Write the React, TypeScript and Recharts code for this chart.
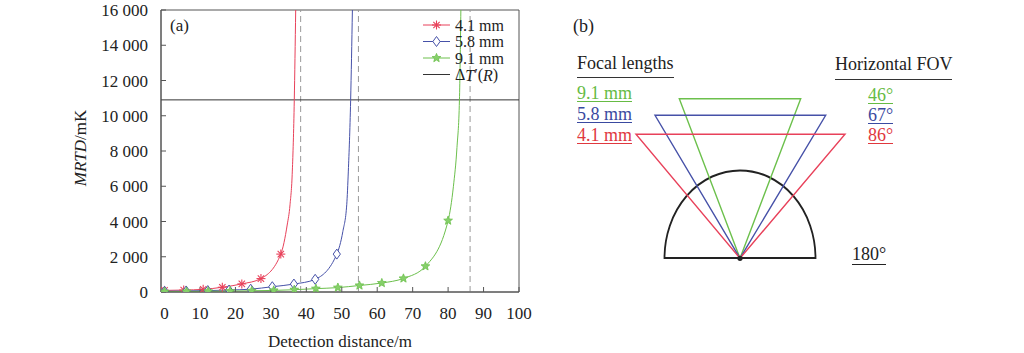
import {
  ComposedChart,
  Line,
  XAxis,
  YAxis,
  ReferenceLine,
  ReferenceArea,
  Legend,
  Scatter,
  PieChart,
  Pie,
} from 'recharts'

const FONT = "'Liberation Serif', 'Times New Roman', serif"
const RED = '#e8415a'
const BLUE = '#4651a8'
const GREEN = '#6cc04c'
const RED_T = '#e0383e'
const BLUE_T = '#3a4aa0'
const GREEN_T = '#66bb44'

// (a) MRTD vs detection distance: the marked points first, then the steep tail
const dist41 = [0, 5.4, 10.9, 16.3, 21.8, 27.2, 32.8, 34.6, 35.4, 36.05, 36.6, 37.0]
const mrtd41 = [90, 110, 150, 270, 460, 760, 2150, 3800, 4950, 6860, 10860, 16000]
const marked41 = 7

const dist58 = [0, 6.1, 12.2, 18.2, 24.3, 30.4, 36.5, 42.5, 48.6, 50.3, 51.4, 51.85, 52.5, 53.0]
const mrtd58 = [40, 60, 80, 110, 160, 300, 450, 720, 2150, 3430, 4950, 6860, 10860, 16000]
const marked58 = 9

const dist91 = [0, 6.2, 12.3, 18.5, 24.6, 30.8, 36.6, 42.7, 48.9, 55.0, 61.3, 67.4, 73.6, 80.0, 81.5, 82.5, 83.2, 83.6]
const mrtd91 = [20, 30, 40, 50, 70, 90, 130, 190, 250, 370, 510, 770, 1460, 4050, 6000, 8200, 10900, 16000]
const marked91 = 14

const deltaT = 10900
const limitDist = [38.4, 54.7, 86.2]
const xTicks = [0, 10, 20, 30, 40, 50, 60, 70, 80, 90, 100]
const yTicks = [0, 2000, 4000, 6000, 8000, 10000, 12000, 14000, 16000]

// (b) field of view sketch
const focalLabels = ['9.1 mm', '5.8 mm', '4.1 mm']
const fovLabels = ['46°', '67°', '86°']
const triLeft = [-60.7, -85, -104]
const triRight = [60.7, 85.7, 105]
const triTop = [159.6, 143, 124]
const halfDisk = [{ name: '180°', value: 180 }]

const rows = (d: number[], v: number[]) => d.map((x, i) => ({ d: x, v: v[i] }))
const fmt = (v: number) => String(v).replace(/\B(?=(\d{3})+(?!\d))/g, ' ')

type MP = { cx?: number; cy?: number; color: string }

const Asterisk = ({ cx = 0, cy = 0, color }: MP) => (
  <g stroke={color} strokeWidth={1.1}>
    {[0, 45, 90, 135].map((a) => {
      const dx = 4.5 * Math.cos((a * Math.PI) / 180)
      const dy = 4.5 * Math.sin((a * Math.PI) / 180)
      return <line key={a} x1={cx - dx} y1={cy - dy} x2={cx + dx} y2={cy + dy} />
    })}
  </g>
)

const Diamond = ({ cx = 0, cy = 0, color }: MP) => (
  <polygon
    points={`${cx},${cy - 5} ${cx + 3.6},${cy} ${cx},${cy + 5} ${cx - 3.6},${cy}`}
    fill="#fff"
    stroke={color}
    strokeWidth={1}
  />
)

const Star = ({ cx = 0, cy = 0, color }: MP) => {
  const pts = []
  for (let i = 0; i < 10; i++) {
    const r = i % 2 === 0 ? 4.6 : 2
    const a = -Math.PI / 2 + (i * Math.PI) / 5
    pts.push(`${cx + r * Math.cos(a)},${cy + r * Math.sin(a)}`)
  }
  return <polygon points={pts.join(' ')} fill="#86d06a" stroke={color} strokeWidth={0.8} />
}

const dotFor = (Marker: any, color: string, count: number) => (p: any) =>
  p.index < count ? (
    <Marker key={p.index} cx={p.cx} cy={p.cy} color={color} />
  ) : (
    <g key={p.index} />
  )

const legendRows = [
  { label: '4.1 mm', color: RED, marker: Asterisk },
  { label: '5.8 mm', color: BLUE, marker: Diamond },
  { label: '9.1 mm', color: GREEN, marker: Star },
  { label: 'dT', color: '#333', marker: null },
]

function LegendBox() {
  return (
    <svg width={110} height={84} style={{ fontFamily: FONT, display: 'block', overflow: 'visible' }}>
      {legendRows.map((r, i) => {
        const y = 12 + i * 16.5
        const M = r.marker
        return (
          <g key={r.label}>
            <line x1={3} x2={30} y1={y} y2={y} stroke={r.color} strokeWidth={1} />
            {M && <M cx={16.5} cy={y} color={r.color} />}
            <text x={35} y={y} dominantBaseline="central" fontSize={16} fill="#222">
              {r.label === 'dT' ? (
                <>
                  Δ<tspan fontStyle="italic">T</tspan>′(<tspan fontStyle="italic">R</tspan>)
                </>
              ) : (
                r.label
              )}
            </text>
          </g>
        )
      })}
    </svg>
  )
}

const YLabel = ({ viewBox }: any) => {
  const x = viewBox.x + 80
  const y = viewBox.y + viewBox.height / 2 - 3
  return (
    <text
      x={x}
      y={y}
      transform={`rotate(-90, ${x}, ${y})`}
      textAnchor="middle"
      dominantBaseline="central"
      fontSize={17}
      fontFamily={FONT}
      fill="#222"
    >
      <tspan fontStyle="italic">MRTD</tspan>/mK
    </text>
  )
}

const XLabel = ({ viewBox }: any) => (
  <text
    x={viewBox.x + viewBox.width / 2}
    y={341.7}
    textAnchor="middle"
    dominantBaseline="central"
    fontSize={17}
    fontFamily={FONT}
    fill="#222"
  >
    Detection distance/m
  </text>
)

const Txt = ({ left, top, color = '#222', size = 18, lh = 16, line, pb = 0, children }: any) => (
  <div
    style={{
      position: 'absolute',
      left,
      top,
      color,
      fontSize: size,
      lineHeight: `${lh}px`,
      fontFamily: FONT,
      whiteSpace: 'nowrap',
      paddingBottom: pb,
      borderBottom: line ? `1px solid ${line}` : undefined,
    }}
  >
    {children}
  </div>
)

const triColors = [GREEN, BLUE, RED]
const textColors = [GREEN_T, BLUE_T, RED_T]

export default function App() {
  const tick = { fill: '#222', fontSize: 17, fontFamily: FONT }
  const triangles = triTop.map((t, i) => [
    { x: 0, y: 0 },
    { x: triLeft[i], y: t },
    { x: triRight[i], y: t },
    { x: 0, y: 0 },
  ])

  return (
    <div
      style={{
        position: 'absolute',
        left: 0,
        top: 0,
        width: 1024,
        height: 353,
        background: '#fff',
        overflow: 'hidden',
      }}
    >
      {/* (a) */}
      <div style={{ position: 'absolute', left: 0, top: 0 }}>
        <ComposedChart width={560} height={353} margin={{ top: 10, right: 41, bottom: 0, left: 0 }}>
          <XAxis
            type="number"
            dataKey="d"
            domain={[-1, 100]}
            ticks={xTicks}
            allowDataOverflow
            height={61}
            tickSize={-5}
            tickMargin={20}
            stroke="#555"
            tick={tick}
            label={<XLabel />}
          />
          <YAxis
            type="number"
            dataKey="v"
            domain={[0, 16000]}
            ticks={yTicks}
            allowDataOverflow
            width={161}
            tickSize={-5}
            tickMargin={18}
            tickFormatter={fmt}
            stroke="#555"
            tick={tick}
            label={<YLabel />}
          />
          <ReferenceArea x1={-1} x2={100} y1={0} y2={16000} fill="none" stroke="#555" ifOverflow="visible" />
          {limitDist.map((d) => (
            <ReferenceLine key={d} x={d} stroke="#9a9a9a" strokeDasharray="6 4" />
          ))}
          <ReferenceLine y={deltaT} stroke="#333" strokeWidth={1} />
          <Line
            data={rows(dist41, mrtd41)}
            dataKey="v"
            type="monotone"
            stroke={RED}
            strokeWidth={1}
            dot={dotFor(Asterisk, RED, marked41)}
            activeDot={false}
            isAnimationActive={false}
          />
          <Line
            data={rows(dist58, mrtd58)}
            dataKey="v"
            type="monotone"
            stroke={BLUE}
            strokeWidth={1}
            dot={dotFor(Diamond, BLUE, marked58)}
            activeDot={false}
            isAnimationActive={false}
          />
          <Line
            data={rows(dist91, mrtd91)}
            dataKey="v"
            type="monotone"
            stroke={GREEN}
            strokeWidth={1}
            dot={dotFor(Star, GREEN, marked91)}
            activeDot={false}
            isAnimationActive={false}
          />
          <Legend
            layout="horizontal"
            verticalAlign="middle"
            align="center"
            content={() => <LegendBox />}
            wrapperStyle={{ left: 420, top: 13, width: 110, height: 84 }}
          />
        </ComposedChart>
      </div>
      <Txt left={170} top={17.4} size={17} lh={17}>
        (a)
      </Txt>

      {/* (b) */}
      <div style={{ position: 'absolute', left: 640, top: 158.3, transform: 'scaleY(1.16)', transformOrigin: '100px 100px' }}>
        <PieChart width={200} height={120} margin={{ top: 0, right: 0, bottom: 0, left: 0 }}>
          <Pie
            data={halfDisk}
            dataKey="value"
            cx={100}
            cy={100}
            outerRadius={75.5}
            startAngle={180}
            endAngle={0}
            fill="none"
            stroke="#222"
            strokeWidth={1.8}
            isAnimationActive={false}
          />
        </PieChart>
      </div>
      <div style={{ position: 'absolute', left: 560, top: 0 }}>
        <ComposedChart width={440} height={353} margin={{ top: 0, right: 0, bottom: 0, left: 0 }}>
          <XAxis type="number" dataKey="x" domain={[-180, 260]} allowDataOverflow hide />
          <YAxis type="number" dataKey="y" domain={[-94.7, 258.3]} allowDataOverflow hide />
          {triangles.map((pts, i) => (
            <Line
              key={i}
              data={pts}
              dataKey="y"
              type="linear"
              stroke={triColors[i]}
              strokeWidth={1.4}
              dot={false}
              activeDot={false}
              isAnimationActive={false}
            />
          ))}
          <Scatter data={[{ x: 0, y: 0 }]} fill="#222" shape={(p: any) => <circle cx={p.cx} cy={p.cy} r={2.6} fill="#222" />} isAnimationActive={false} />
        </ComposedChart>
      </div>

      <Txt left={573} top={17} size={18} lh={18}>
        (b)
      </Txt>
      <Txt left={577} top={55} line="#333" pb={6}>
        Focal lengths
      </Txt>
      <Txt left={835} top={56} line="#333" pb={6.5}>
        Horizontal FOV
      </Txt>
      {focalLabels.map((s, i) => (
        <Txt key={s} left={577} top={85 + i * 21} color={textColors[i]} line={textColors[i]}>
          {s}
        </Txt>
      ))}
      {fovLabels.map((s, i) => (
        <Txt key={s} left={868} top={87 + i * 20} color={textColors[i]} line={textColors[i]}>
          {s}
        </Txt>
      ))}
      <Txt left={852} top={245.4} lh={19} line="#222">
        {halfDisk[0].name}
      </Txt>
    </div>
  )
}
